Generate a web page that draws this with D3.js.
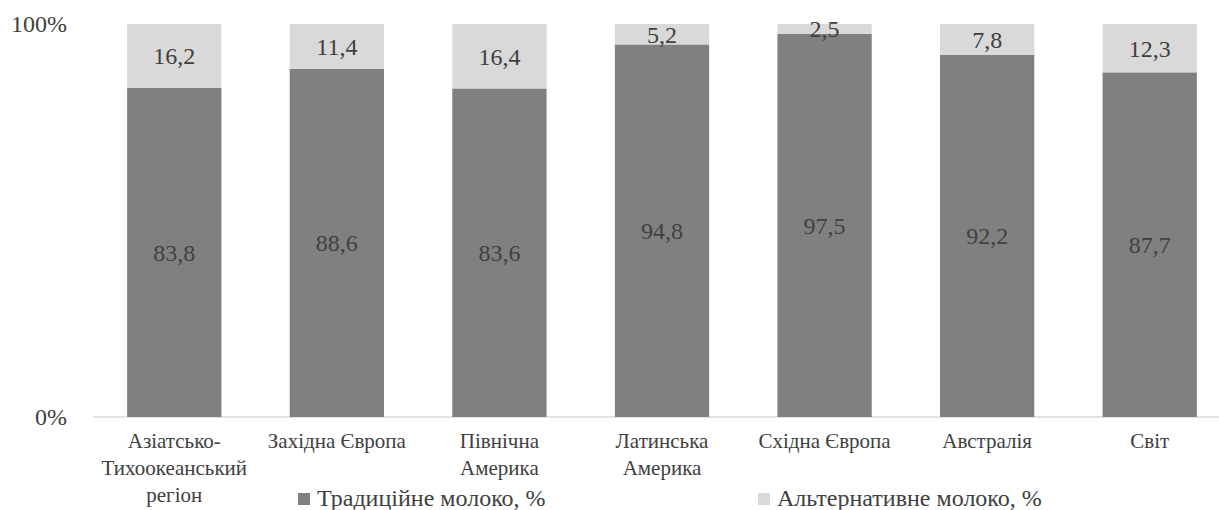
<!DOCTYPE html>
<html>
<head>
<meta charset="utf-8">
<script src="https://cdn.jsdelivr.net/npm/d3@7"></script>
<style>
  html, body { margin: 0; padding: 0; background: #fff; }
</style>
</head>
<body>
<svg id="chart" width="1219" height="510"></svg>
<script>
// Regions (multi-line labels split with "|")
const categories = ["Азіатсько-|Тихоокеанський|регіон", "Західна Європа", "Північна|Америка", "Латинська|Америка", "Східна Європа", "Австралія", "Світ"];
const traditional = [83.8, 88.6, 83.6, 94.8, 97.5, 92.2, 87.7];
const alternative = [16.2, 11.4, 16.4, 5.2, 2.5, 7.8, 12.3];
const seriesNames = ["Традиційне молоко, %", "Альтернативне молоко, %"];
const yTicks = [0, 100];

const colors = ["#808080", "#d9d9d9"];
const FONT = "'Times New Roman', 'Liberation Serif', Tinos, monospace";
const TEXT = "#404040";
const svg = d3.select("#chart");

const x = d3.scaleBand().domain(categories).range([93, 1231]).paddingInner(0.42).paddingOuter(0.21);
const y = d3.scaleLinear().domain([0, 100]).range([417, 24]);

const rows = categories.map((c, i) => ({ cat: c, trad: traditional[i], alt: alternative[i] }));
const stacked = d3.stack().keys(["trad", "alt"])(rows);

function label(sel, size) {
  return sel.style("font-family", FONT).style("font-size", size + "px").attr("fill", TEXT);
}

// axis baseline
svg.append("line")
  .attr("x1", 93).attr("x2", 1231)
  .attr("y1", y(0)).attr("y2", y(0))
  .attr("stroke", "#d9d9d9").attr("stroke-width", 1.5);

// bars with value labels
stacked.forEach((layer, li) => {
  const g = svg.append("g");
  g.selectAll("rect").data(layer).join("rect")
    .attr("x", d => x(d.data.cat))
    .attr("width", x.bandwidth())
    .attr("y", d => y(d[1]))
    .attr("height", d => y(d[0]) - y(d[1]))
    .attr("fill", colors[li]);
  label(g.selectAll("text").data(layer).join("text"), 24)
    .attr("x", d => x(d.data.cat) + x.bandwidth() / 2)
    .attr("y", d => (y(d[0]) + y(d[1])) / 2)
    .attr("dy", "0.35em")
    .attr("text-anchor", "middle")
    .text(d => String(li === 0 ? d.data.trad : d.data.alt).replace(".", ","));
});

// y tick labels
label(svg.append("g").selectAll("text").data(yTicks).join("text"), 24)
  .attr("x", 67)
  .attr("y", d => y(d))
  .attr("dy", "0.33em")
  .attr("text-anchor", "end")
  .text(d => d + "%");

// category labels
const xl = label(svg.append("g").selectAll("text").data(categories).join("text"), 21)
  .attr("x", d => x(d) + x.bandwidth() / 2)
  .attr("y", 448)
  .attr("text-anchor", "middle");
xl.each(function(d) {
  const parts = d.split("|");
  d3.select(this).selectAll("tspan").data(parts).join("tspan")
    .attr("x", x(d) + x.bandwidth() / 2)
    .attr("dy", (p, i) => i === 0 ? 0 : 27)
    .text(p => p);
});

// legend
const legendX = [298, 758];
const lg = svg.append("g").selectAll("g").data(seriesNames).join("g")
  .attr("transform", (d, i) => `translate(${legendX[i]},0)`);
lg.append("rect").attr("x", 0).attr("y", 493).attr("width", 12).attr("height", 12)
  .attr("fill", (d, i) => colors[i]);
label(lg.append("text"), 24).attr("x", 19).attr("y", 506).text(d => d);
</script>
</body>
</html>
